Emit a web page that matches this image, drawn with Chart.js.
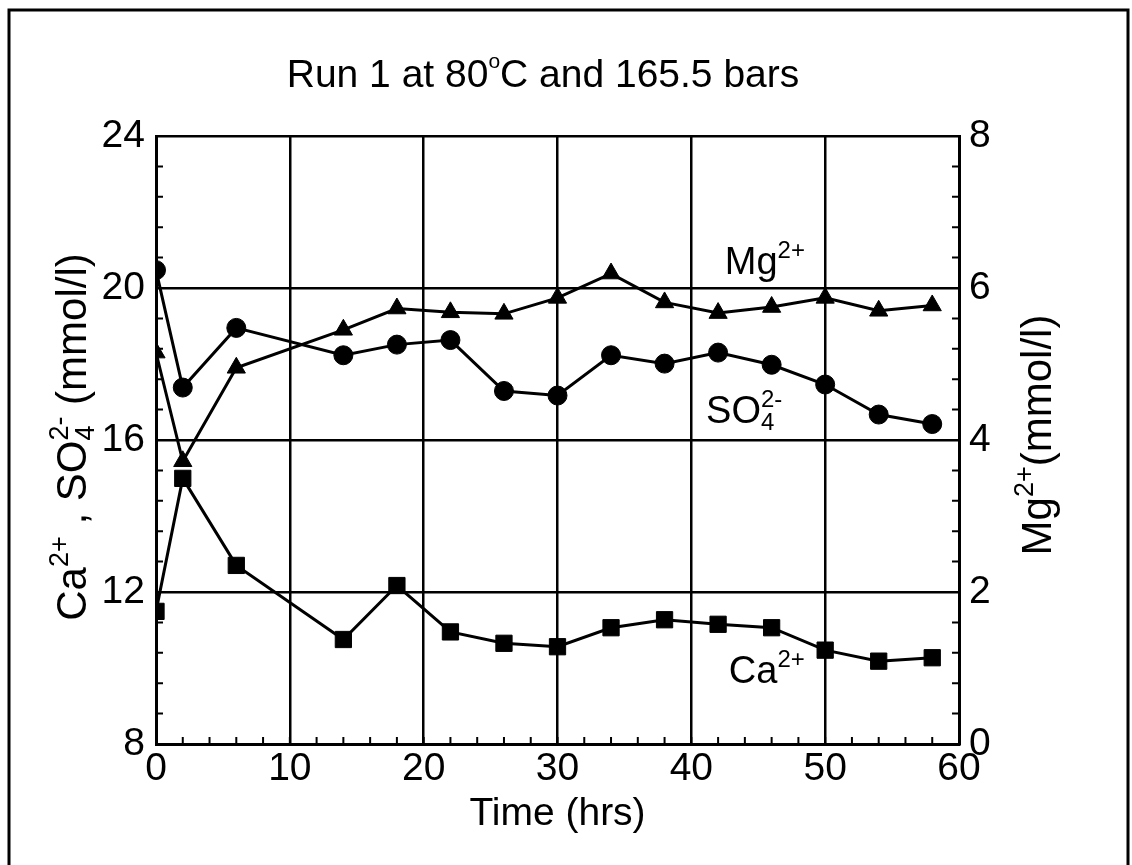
<!DOCTYPE html>
<html>
<head>
<meta charset="utf-8">
<title>Run 1 at 80°C and 165.5 bars</title>
<script src="https://cdn.jsdelivr.net/npm/chart.js@4.4.1/dist/chart.umd.min.js"></script>
<style>
  html, body { margin: 0; padding: 0; background: #fff; }
  canvas { display: block; }
</style>
</head>
<body>
<canvas id="chart" width="1132" height="865"></canvas>
<script>
// sampling times (hrs)
const hours = [0, 2, 6, 14, 18, 22, 26, 30, 34, 38, 42, 46, 50, 54, 58];
// left axis, mmol/l
const so4 = [20.47, 17.38, 18.95, 18.23, 18.51, 18.63, 17.29, 17.17, 18.23, 18.01, 18.30, 17.98, 17.46, 16.67, 16.42];
const ca = [11.49, 14.99, 12.70, 10.75, 12.17, 10.95, 10.65, 10.56, 11.06, 11.27, 11.15, 11.06, 10.47, 10.18, 10.27];
// right axis, mmol/l
const mg = [5.15, 3.72, 4.95, 5.45, 5.73, 5.68, 5.66, 5.87, 6.19, 5.81, 5.67, 5.75, 5.87, 5.70, 5.77];

const xTicks = [0, 10, 20, 30, 40, 50, 60];
const leftTicks = [8, 12, 16, 20, 24];
const rightTicks = [0, 2, 4, 6, 8];

const FONT = "'Liberation Sans', Arial, Helvetica, sans-serif";

function pts(ys) {
  return hours.map((h, i) => ({ x: h, y: ys[i] }));
}

// text pieces with super/subscripts
// piece: {t, s (scale), dy (em, +down), adv (false = stack with next)}
function richWidth(ctx, parts, size) {
  let w = 0, pending = 0;
  parts.forEach(p => {
    ctx.font = `${Math.round(size * (p.s || 1))}px ${FONT}`;
    const pw = ctx.measureText(p.t).width;
    if (p.adv === false) { pending = Math.max(pending, pw); return; }
    w += Math.max(pw, pending);
    pending = 0;
  });
  return w;
}

function drawRich(ctx, parts, x, y, size, align) {
  let cx = align === 'center' ? x - richWidth(ctx, parts, size) / 2 : x;
  let pending = 0;
  ctx.textAlign = 'left';
  ctx.textBaseline = 'alphabetic';
  parts.forEach(p => {
    ctx.font = `${Math.round(size * (p.s || 1))}px ${FONT}`;
    const pw = ctx.measureText(p.t).width;
    ctx.fillText(p.t, cx, y + (p.dy || 0) * size);
    if (p.adv === false) { pending = Math.max(pending, pw); return; }
    cx += Math.max(pw, pending);
    pending = 0;
  });
}

const SUP = (t) => ({ t, s: 0.64, dy: -0.42 });
const SUB = (t) => ({ t, s: 0.64, dy: 0.2, adv: false });

const decorations = {
  id: 'decorations',
  afterDatasetsDraw(chart) {
    const { ctx, chartArea: a, scales } = chart;
    const sx = scales.x, sy = scales.y, sy2 = scales.y2;
    ctx.save();
    ctx.strokeStyle = '#000';
    ctx.fillStyle = '#000';

    // minor ticks pointing inward
    ctx.lineWidth = 2;
    ctx.beginPath();
    for (let v = 8; v <= 24.001; v += 0.8) {
      const py = sy.getPixelForValue(v);
      ctx.moveTo(a.left, py); ctx.lineTo(a.left + 7, py);
    }
    for (let v = 0; v <= 8.001; v += 0.4) {
      const py = sy2.getPixelForValue(v);
      ctx.moveTo(a.right, py); ctx.lineTo(a.right - 7, py);
    }
    for (let v = 0; v <= 60.001; v += 2) {
      const px = sx.getPixelForValue(v);
      ctx.moveTo(px, a.bottom); ctx.lineTo(px, a.bottom - 7);
    }
    ctx.stroke();

    // series labels inside the plot
    const size = 38;
    drawRich(ctx, [{ t: 'Mg' }, SUP('2+')], sx.getPixelForValue(42.5), sy.getPixelForValue(20.38), size);
    drawRich(ctx, [{ t: 'SO' }, SUB('4'), SUP('2-')], sx.getPixelForValue(41.1), sy.getPixelForValue(16.46), size);
    drawRich(ctx, [{ t: 'Ca' }, SUP('2+')], sx.getPixelForValue(42.8), sy.getPixelForValue(9.6), size);

    // title
    drawRich(ctx, [{ t: 'Run 1 at 80' }, { t: 'o', s: 0.55, dy: -0.5 }, { t: 'C and 165.5 bars' }], 543, 87, 38.5, 'center');

    // x axis title
    drawRich(ctx, [{ t: 'Time (hrs)' }], (a.left + a.right) / 2, 825, 39, 'center');

    // left axis title
    ctx.save();
    ctx.translate(86, (a.top + a.bottom) / 2 - 3);
    ctx.rotate(-Math.PI / 2);
    drawRich(ctx, [{ t: 'Ca' }, SUP('2+'), { t: ' , SO' }, SUB('4'), SUP('2-'), { t: ' (mmol/l)' }], 0, 0, 42, 'center');
    ctx.restore();

    // right axis title
    ctx.save();
    ctx.translate(1051, (a.top + a.bottom) / 2 - 5);
    ctx.rotate(-Math.PI / 2);
    drawRich(ctx, [{ t: 'Mg' }, SUP('2+'), { t: '(mmol/l)' }], 0, 0, 42, 'center');
    ctx.restore();

    // outer frame
    ctx.lineWidth = 3;
    ctx.beginPath();
    ctx.moveTo(9, 870); ctx.lineTo(9, 10); ctx.lineTo(1128, 10); ctx.lineTo(1128, 870);
    ctx.stroke();
    ctx.restore();
  }
};

const tickFont = { family: FONT, size: 39 };

new Chart(document.getElementById('chart').getContext('2d'), {
  type: 'line',
  data: {
    datasets: [
      {
        label: 'SO4',
        data: pts(so4),
        yAxisID: 'y',
        pointStyle: 'circle',
        pointRadius: 9.5
      },
      {
        label: 'Mg',
        data: pts(mg),
        yAxisID: 'y2',
        pointStyle: 'triangle',
        pointRadius: 10.5
      },
      {
        label: 'Ca',
        data: pts(ca),
        yAxisID: 'y',
        pointStyle: 'rect',
        pointRadius: 11.5
      }
    ]
  },
  options: {
    responsive: false,
    animation: false,
    devicePixelRatio: 1,
    layout: { padding: { top: 136, left: 0, right: 0, bottom: 0 } },
    elements: {
      line: { tension: 0, borderWidth: 3, borderColor: '#000', fill: false },
      point: { backgroundColor: '#000', borderColor: '#000', borderWidth: 1 }
    },
    plugins: {
      legend: { display: false },
      tooltip: { enabled: false },
      title: { display: false }
    },
    scales: {
      x: {
        type: 'linear',
        min: 0,
        max: 60,
        afterFit(s) { s.height = 121; },
        afterBuildTicks(s) { s.ticks = xTicks.map(v => ({ value: v })); },
        ticks: { color: '#000', font: tickFont, padding: 2, maxRotation: 0 },
        grid: { color: '#000', lineWidth: 2.5, drawTicks: false },
        border: { display: true, color: '#000', width: 3 }
      },
      y: {
        position: 'left',
        min: 8,
        max: 24,
        afterFit(s) { s.width = 156; },
        afterBuildTicks(s) { s.ticks = leftTicks.map(v => ({ value: v })); },
        ticks: { color: '#000', font: tickFont, padding: 11 },
        grid: { color: '#000', lineWidth: 2.5, drawTicks: false },
        border: { display: true, color: '#000', width: 3 }
      },
      y2: {
        position: 'right',
        min: 0,
        max: 8,
        afterFit(s) { s.width = 173; },
        afterBuildTicks(s) { s.ticks = rightTicks.map(v => ({ value: v })); },
        ticks: { color: '#000', font: tickFont, padding: 10 },
        grid: { display: false, drawTicks: false },
        border: { display: true, color: '#000', width: 3 }
      }
    }
  },
  plugins: [decorations]
});
</script>
</body>
</html>
